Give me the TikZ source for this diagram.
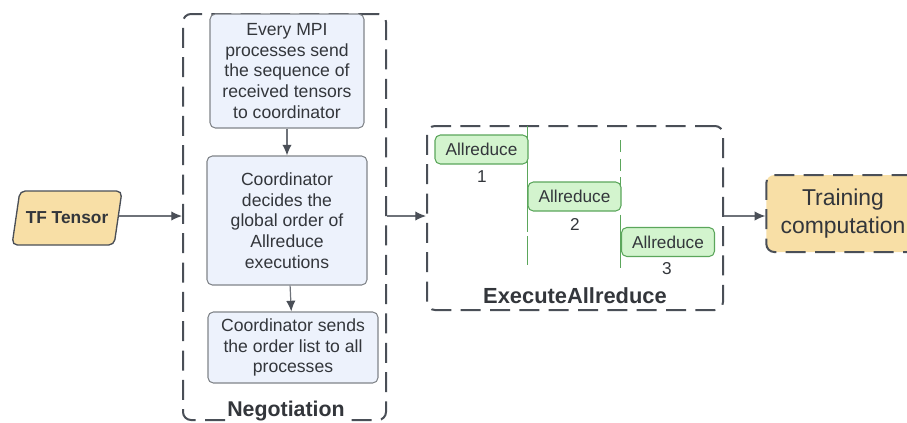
\documentclass[tikz,border=0pt]{standalone}
\usepackage{fontspec}
\setmainfont{Liberation Sans}
\usetikzlibrary{shapes.geometric,arrows.meta}
\definecolor{edgegray}{HTML}{4A4F57}
\definecolor{txtgray}{HTML}{33363B}
\definecolor{tforange}{HTML}{F8DFA6}
\definecolor{negblue}{HTML}{EDF2FC}
\definecolor{arfill}{HTML}{D3F4CE}
\definecolor{arline}{HTML}{5BA65B}
\tikzset{stepbox/.style={draw = edgegray!70, fill = negblue, rounded corners = 4pt,
    line width = 0.8pt, text = txtgray, align = center,
    font = \fontsize{13.2}{15.5}\selectfont},
  groupbox/.style={draw = edgegray, line width = 1.5pt, rounded corners = 6pt,
    dash pattern = on 15pt off 7pt},
  arbox/.style={draw = arline, fill = arfill, rounded corners = 4pt,
    line width = 0.8pt, text = txtgray, minimum width = 69.75pt,
    minimum height = 21.75pt, inner sep = 0pt, font = \fontsize{12.9}{14}\selectfont},
  flowarrow/.style={draw = edgegray!80, line width = 0.9pt,
    -{Latex[length = 8pt, width = 7pt, color = edgegray]}},
  steplabel/.style={text = txtgray, font = \fontsize{12.9}{14}\selectfont}
}
\begin{document}
\begin{tikzpicture}[x = 0.75pt, y = -0.75pt]
    \useasboundingbox (0, 0) rectangle (907, 422);
    % inputs and output
    \draw (67, 218) node[trapezium, trapezium left angle = 70,
    trapezium right angle = 110, trapezium stretches = true,
    minimum width = 82.5pt, minimum height = 40.5pt, rounded corners = 4pt,
    draw = edgegray, line width = 1pt, fill = tforange, text = txtgray,
    font = \fontsize{13}{15}\selectfont\bfseries]
    (tf) {TF Tensor};
    \draw (843, 213.5) node[groupbox, fill = tforange, minimum width = 115pt,
    minimum height = 57.75pt, text = txtgray, align = center,
    font = \fontsize{17.2}{20.5}\selectfont]
    (train) {Training\\computation};
    % negotiation group
    \draw (284.5, 217) node[groupbox, minimum width = 152.25pt,
    minimum height = 304.5pt] (neg) {};
    \draw (287, 71) node[stepbox, minimum width = 115.5pt, minimum height = 85.5pt]
    (s1) {Every MPI\\processes send\\the sequence of\\received tensors\\to coordinator};
    \draw (287, 220.5) node[stepbox, minimum width = 120pt, minimum height = 96.75pt]
    (s2) {Coordinator\\decides the\\global order of\\Allreduce\\executions};
    \draw (293, 347.5) node[stepbox, minimum width = 127.5pt, minimum height = 53.25pt]
    (s3) {Coordinator sends\\the order list to all\\processes};
    \draw (286, 411) node[fill = white, inner sep = 1pt, text = txtgray,
    font = \fontsize{16}{18}\selectfont\bfseries] (neglabel) {Negotiation};
    % allreduce group
    \draw (575, 218) node[groupbox, minimum width = 222pt, minimum height = 138pt]
    (exec) {};
    \draw[arline, line width = 1pt] (527.5, 126) -- (527.5, 232);
    \draw[arline, line width = 1pt, dash pattern = on 22pt off 4pt] (527.5, 236) -- (527.5, 266);
    \draw[arline, line width = 1pt, dash pattern = on 9pt off 5pt] (620.5, 140) -- (620.5, 226);
    \draw[arline, line width = 1pt] (620.5, 226) -- (620.5, 268);
    \draw (481.5, 149.5) node[arbox] (ar1) {Allreduce};
    \draw (574.5, 196.5) node[arbox] (ar2) {Allreduce};
    \draw (668, 242) node[arbox] (ar3) {Allreduce};
    \draw (482, 177) node[steplabel] (n1) {1};
    \draw (575, 224) node[steplabel] (n2) {2};
    \draw (667, 269) node[steplabel] (n3) {3};
    \draw (575, 296) node[text = txtgray,
    font = \fontsize{16.4}{18}\selectfont\bfseries] (execlabel) {ExecuteAllreduce};
    % connectors
    \draw[flowarrow] (tf.east |- 0, 216) -- (neg.west |- 0, 216);
    \draw[flowarrow] (s1) -- (s2);
    \draw[flowarrow] (s2) -- (s3);
    \draw[flowarrow] (neg.east |- 0, 216) -- (exec.west |- 0, 216);
    \draw[flowarrow] (exec.east |- 0, 216) -- (train.west |- 0, 216);
  \end{tikzpicture}
\end{document}
